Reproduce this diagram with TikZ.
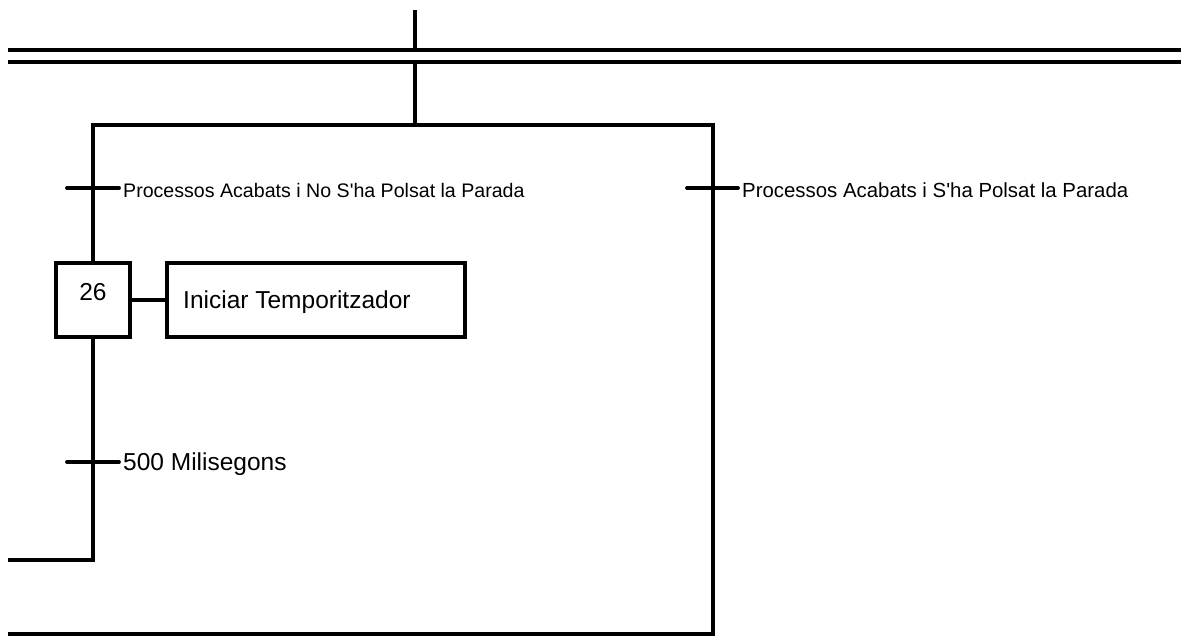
\documentclass[tikz,border=0pt]{standalone}
\usepackage{fontspec}
\setmainfont{Liberation Sans}
\begin{document}
\begin{tikzpicture}[x=1pt,y=-1pt,
  wire/.style={line width=3.8pt},
  stepbox/.style={draw,line width=3.8pt,minimum width=74pt,minimum height=74pt,inner sep=0pt},
  actbox/.style={draw,line width=3.8pt,minimum width=298pt,minimum height=74pt,inner sep=0pt},
  small/.style={font=\fontsize{19.6}{24}\selectfont,inner sep=0pt},
  smallr/.style={font=\fontsize{20.4}{24}\selectfont,inner sep=0pt},
  big/.style={font=\fontsize{24.5}{29}\selectfont,inner sep=0pt}]
\useasboundingbox (0,0) rectangle (1181,637);
% double line (simultaneous convergence/divergence)
\coordinate (dl1a) at (8,50);
\coordinate (dl1b) at (1181,50);
\coordinate (dl2a) at (8,62);
\coordinate (dl2b) at (1181,62);
\draw[wire] (dl1a) -- (dl1b);
\draw[wire] (dl2a) -- (dl2b);
\coordinate (topin) at (415,10);
\coordinate (j1) at (415,50);
\coordinate (j2) at (415,62);
\coordinate (j3) at (415,125);
\draw[wire] (topin) -- (j1);
\draw[wire] (j2) -- (j3);
% selection divergence
\coordinate (bl) at (93,125);
\coordinate (br) at (713,125);
\draw[wire,line cap=rect] (bl) -- (br);
% step 26 and action
\node[stepbox] (s26) at (93,300) {};
\node[big,anchor=base] (s26t) at (93,300) {26};
\node[actbox] (a26) at (316,300) {};
\node[big,anchor=base west] (a26t) at (183,308) {Iniciar Temporitzador};
\draw[wire] (s26.east) -- (a26.west);
\draw[wire] (bl) -- (s26.north);
% transitions
\coordinate (t1) at (93,188);
\draw[wire,line cap=round] (67,188) -- (119,188);
\node[small,anchor=base west] (t1l) at (123,197) {Processos Acabats i No S\textquotesingle ha Polsat la Parada};
\coordinate (t2) at (713,188);
\draw[wire,line cap=round] (687,188) -- (738,188);
\node[smallr,anchor=base west] (t2l) at (742,197) {Processos Acabats i S\textquotesingle ha Polsat la Parada};
\coordinate (t3) at (93,462);
\draw[wire,line cap=round] (67,462) -- (119,462);
\node[big,anchor=base west] (t3l) at (123,470) {500 Milisegons};
% loop back left
\coordinate (lb) at (93,560);
\coordinate (lbo) at (8,560);
\draw[wire,line join=miter] (s26.south) -- (lb) -- (lbo);
% right branch down
\coordinate (rb) at (713,634);
\coordinate (rbo) at (8,634);
\draw[wire,line join=miter] (br) -- (rb) -- (rbo);
\end{tikzpicture}
\end{document}
